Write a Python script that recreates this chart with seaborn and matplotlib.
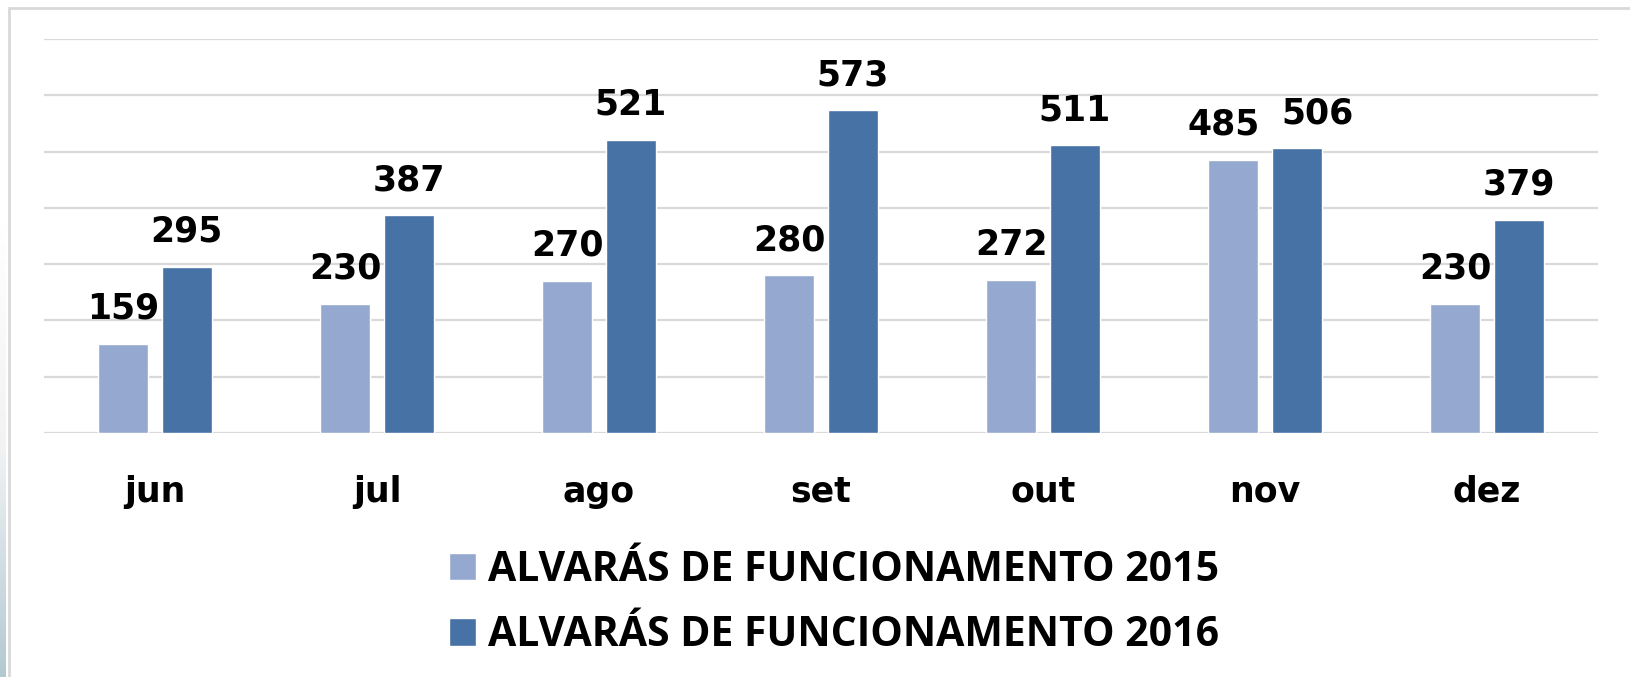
import numpy as np
import pandas as pd
import seaborn as sns
import matplotlib.pyplot as plt
from matplotlib.patches import Rectangle, Patch
from matplotlib.colors import LinearSegmentedColormap

# Data
meses = ['jun', 'jul', 'ago', 'set', 'out', 'nov', 'dez']
alvaras_2015 = [159, 230, 270, 280, 272, 485, 230]
alvaras_2016 = [295, 387, 521, 573, 511, 506, 379]
serie_2015 = 'ALVARÁS DE FUNCIONAMENTO 2015'
serie_2016 = 'ALVARÁS DE FUNCIONAMENTO 2016'

cor_2015 = '#95A9D0'
cor_2016 = '#4672A6'

df = pd.DataFrame({
    'mes': meses * 2,
    'valor': alvaras_2015 + alvaras_2016,
    'serie': [serie_2015] * len(meses) + [serie_2016] * len(meses),
})

sns.set_style('white')
plt.rcParams['font.family'] = ['DejaVu Sans']

fig = plt.figure(figsize=(16.31, 6.77), dpi=100)
ax = fig.add_axes([44 / 1631, 1 - 433 / 677, (1598 - 44) / 1631, (433 - 39) / 677])

sns.barplot(data=df, x='mes', y='valor', hue='serie',
            palette=[cor_2015, cor_2016], saturation=1,
            width=0.57, gap=0.21, legend=False, ax=ax)

ax.set_ylim(0, 700)
ax.set_xlim(-0.5, 6.5)
ax.set_yticks(range(0, 701, 100))
ax.yaxis.grid(True, color='#d9d9d9', linewidth=1.6)
ax.set_axisbelow(True)
ax.tick_params(axis='y', left=False, labelleft=False)
ax.tick_params(axis='x', length=0, pad=30, labelsize=25, labelcolor='black')
for lbl in ax.get_xticklabels():
    lbl.set_fontweight('bold')
ax.set_xlabel('')
ax.set_ylabel('')
sns.despine(ax=ax, left=True, bottom=True)

# Value labels above each bar
rotulos = []
for cont in ax.containers:
    rotulos.append(ax.bar_label(cont, padding=13, fontsize=25,
                                fontweight='bold', color='black'))

# Excel nudges the two crowded labels in "nov" apart
rotulos[0][5].xyann = (-7, 13)
rotulos[1][5].xyann = (15, 13)

# Legend below the chart
handles = [Patch(facecolor=cor_2015, label=serie_2015),
           Patch(facecolor=cor_2016, label=serie_2016)]
leg = fig.legend(handles=handles, loc='center left',
                 bbox_to_anchor=(429 / 1631, 1 - 603 / 677),
                 frameon=False, ncol=1,
                 prop={'family': 'Open Sans', 'weight': 'bold', 'size': 29.5},
                 handlelength=0.65, handleheight=0.65, handletextpad=0.3,
                 labelspacing=0.6, borderpad=0)
for t in leg.get_texts():
    t.set_color('black')

# Outer frame of the picture
fig.patches.append(Rectangle((9 / 1631, -0.2), 1.5, 1.2 - 8 / 677,
                             transform=fig.transFigure, fill=False,
                             edgecolor='#d9d9d9', linewidth=2))

# Bluish strip on the left edge
strip = fig.add_axes([0, 0, 6 / 1631, 1])
cmap = LinearSegmentedColormap.from_list('faixa', ['#ffffff', '#ffffff', '#f0f2f3', '#b3c9d2'])
strip.imshow(np.linspace(0, 1, 256).reshape(-1, 1), aspect='auto', cmap=cmap)
strip.set_axis_off()

fig.savefig('out.png', dpi=100)
